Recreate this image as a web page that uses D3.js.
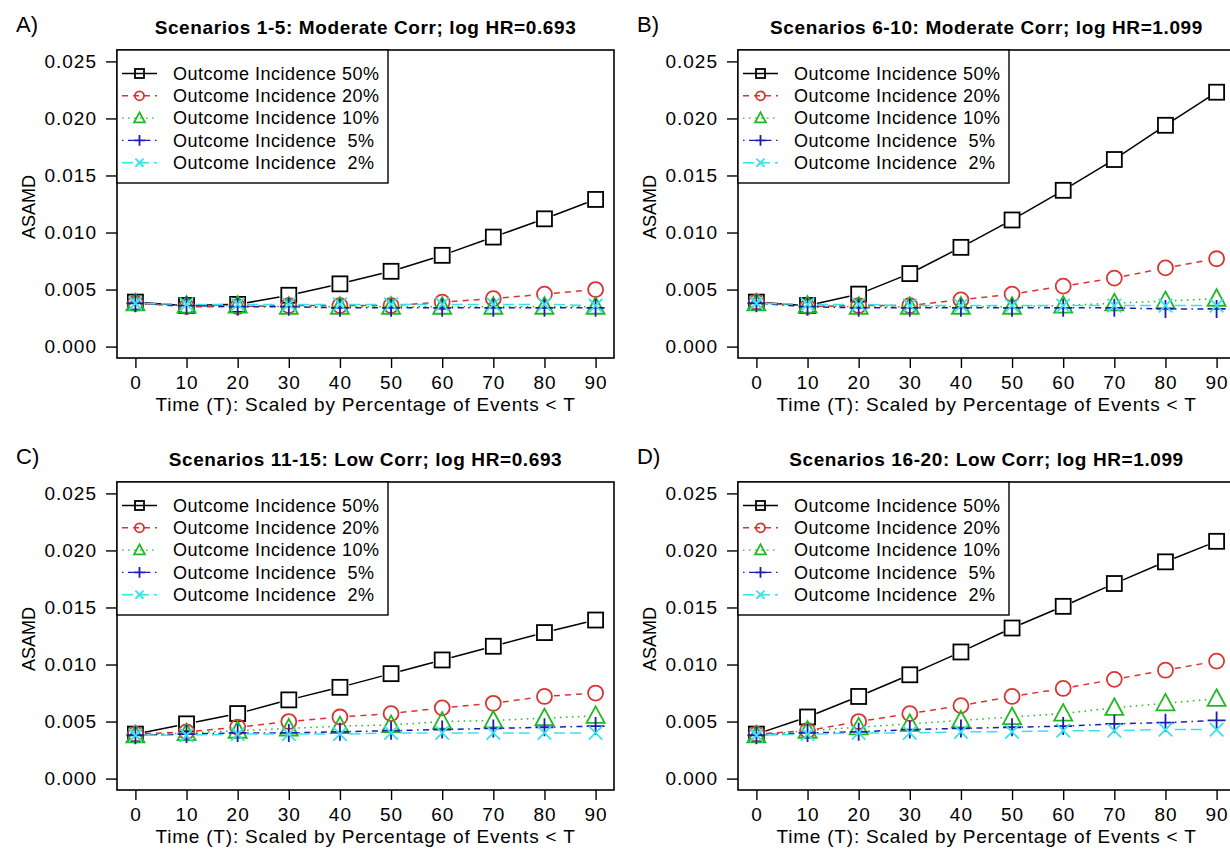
<!DOCTYPE html>
<html>
<head>
<meta charset="utf-8">
<script src="https://cdn.jsdelivr.net/npm/d3@7"></script>
<style>
  body { margin: 0; background: #fff; }
  text { font-family: "Liberation Sans", Arial, sans-serif; }
</style>
</head>
<body>
<div id="Area"></div>
<script>
// x values and tick labels
var times = [0, 10, 20, 30, 40, 50, 60, 70, 80, 90];
var yTicks = [0, 0.005, 0.010, 0.015, 0.020, 0.025];
var legendLabels = ["Outcome Incidence 50%", "Outcome Incidence 20%", "Outcome Incidence 10%",
                    "Outcome Incidence  5%", "Outcome Incidence  2%"];
var panelLetters = ["A)", "B)", "C)", "D)"];
var panelTitles = ["Scenarios 1-5: Moderate Corr; log HR=0.693",
                   "Scenarios 6-10: Moderate Corr; log HR=1.099",
                   "Scenarios 11-15: Low Corr; log HR=0.693",
                   "Scenarios 16-20: Low Corr; log HR=1.099"];

// panel A
var a50 = [0.0039, 0.0036, 0.0037, 0.0045, 0.0055, 0.0066, 0.0080, 0.0096, 0.0112, 0.0129];
var a20 = [0.0038, 0.0035, 0.0035, 0.0036, 0.0036, 0.0036, 0.0039, 0.0042, 0.0046, 0.0050];
var a10 = [0.0038, 0.0036, 0.0036, 0.0035, 0.0035, 0.0035, 0.0035, 0.0035, 0.0035, 0.0035];
var a05 = [0.0038, 0.0036, 0.0035, 0.0035, 0.0034, 0.0034, 0.0034, 0.0034, 0.0034, 0.0034];
var a02 = [0.0038, 0.0037, 0.0037, 0.0037, 0.0037, 0.0037, 0.0037, 0.0037, 0.0037, 0.0036];
// panel B
var b50 = [0.0039, 0.0036, 0.0046, 0.0064, 0.0087, 0.0111, 0.0137, 0.0164, 0.0194, 0.0223];
var b20 = [0.0039, 0.0035, 0.0036, 0.0036, 0.0041, 0.0046, 0.0053, 0.0060, 0.0069, 0.0077];
var b10 = [0.0038, 0.0036, 0.0035, 0.0035, 0.0035, 0.0035, 0.0036, 0.0038, 0.0040, 0.0042];
var b05 = [0.0038, 0.0035, 0.0034, 0.0034, 0.0034, 0.0034, 0.0034, 0.0034, 0.0033, 0.0033];
var b02 = [0.0038, 0.0037, 0.0037, 0.0036, 0.0036, 0.0036, 0.0036, 0.0036, 0.0036, 0.0036];
// panel C
var c50 = [0.0039, 0.0048, 0.0057, 0.0069, 0.0080, 0.0092, 0.0104, 0.0116, 0.0128, 0.0139];
var c20 = [0.0039, 0.0041, 0.0045, 0.0050, 0.0054, 0.0057, 0.0062, 0.0066, 0.0072, 0.0075];
var c10 = [0.0038, 0.0040, 0.0042, 0.0044, 0.0046, 0.0047, 0.0050, 0.0051, 0.0053, 0.0055];
var c05 = [0.0038, 0.0039, 0.0040, 0.0040, 0.0041, 0.0042, 0.0043, 0.0044, 0.0045, 0.0046];
var c02 = [0.0038, 0.0038, 0.0039, 0.0039, 0.0039, 0.0040, 0.0040, 0.0040, 0.0040, 0.0040];
// panel D
var d50 = [0.0039, 0.0054, 0.0072, 0.0091, 0.0111, 0.0132, 0.0151, 0.0171, 0.0190, 0.0208];
var d20 = [0.0039, 0.0042, 0.0050, 0.0057, 0.0064, 0.0072, 0.0079, 0.0087, 0.0095, 0.0103];
var d10 = [0.0038, 0.0042, 0.0045, 0.0048, 0.0051, 0.0054, 0.0057, 0.0062, 0.0066, 0.0070];
var d05 = [0.0038, 0.0040, 0.0041, 0.0043, 0.0044, 0.0045, 0.0046, 0.0048, 0.0049, 0.0051];
var d02 = [0.0038, 0.0039, 0.0040, 0.0040, 0.0041, 0.0041, 0.0042, 0.0042, 0.0043, 0.0043];

var panelData = [[a50, a20, a10, a05, a02], [b50, b20, b10, b05, b02],
                 [c50, c20, c10, c05, c02], [d50, d20, d10, d05, d02]];

// styles per series: colour, dash, marker
var colors = ["#000000", "#dc3232", "#22b822", "#1c1cb4", "#38e2ec"];
var dashes = [null, "6,5", "1.5,4.5", "1.5,4.5,6,4.5", "11,5"];
var shapes = ["square", "circle", "triangle", "plus", "cross"];

var W = 1230, H = 859;
var panelW = 621, panelH = 432;
// plot box inside each panel
var box = {left: 117, right: 614, top: 50, bottom: 358};

var svg = d3.select("#Area")
  .append("svg")
    .attr("width", W)
    .attr("height", H);

function marker(g, shape, cx, cy, s, col) {
  var sw = 1.8;
  if (shape == "square") {
    g.append("rect").attr("x", cx - s / 2).attr("y", cy - s / 2)
      .attr("width", s).attr("height", s)
      .attr("fill", "none").attr("stroke", col).attr("stroke-width", sw);
  } else if (shape == "circle") {
    g.append("circle").attr("cx", cx).attr("cy", cy).attr("r", s / 2)
      .attr("fill", "none").attr("stroke", col).attr("stroke-width", sw);
  } else if (shape == "triangle") {
    var h = s * 1.05, w = s * 1.2;
    g.append("path")
      .attr("d", "M" + cx + "," + (cy - h * 0.6) + "L" + (cx + w / 2) + "," + (cy + h * 0.45) +
                 "L" + (cx - w / 2) + "," + (cy + h * 0.45) + "Z")
      .attr("fill", "none").attr("stroke", col).attr("stroke-width", sw);
  } else if (shape == "plus") {
    var r = s * 0.6;
    g.append("path")
      .attr("d", "M" + (cx - r) + "," + cy + "H" + (cx + r) + "M" + cx + "," + (cy - r) + "V" + (cy + r))
      .attr("stroke", col).attr("stroke-width", sw);
  } else {
    var r2 = s * 0.45;
    g.append("path")
      .attr("d", "M" + (cx - r2) + "," + (cy - r2) + "L" + (cx + r2) + "," + (cy + r2) +
                 "M" + (cx - r2) + "," + (cy + r2) + "L" + (cx + r2) + "," + (cy - r2))
      .attr("stroke", col).attr("stroke-width", sw);
  }
}

panelData.forEach(function(series, p) {
  var ox = (p % 2) * panelW, oy = Math.floor(p / 2) * panelH;
  var g = svg.append("g").attr("transform", "translate(" + ox + "," + oy + ")");

  // R style 4% expansion of the data range
  var x = d3.scaleLinear().domain([-3.6, 93.6]).range([box.left, box.right]);
  var y = d3.scaleLinear().domain([-0.001, 0.026]).range([box.bottom, box.top]);

  // series: segments with gaps (type = "b"), then points
  series.forEach(function(vals, i) {
    var gap = 9.5;
    for (var k = 0; k < vals.length - 1; k++) {
      var x1 = x(times[k]), y1 = y(vals[k]), x2 = x(times[k + 1]), y2 = y(vals[k + 1]);
      var len = Math.sqrt((x2 - x1) * (x2 - x1) + (y2 - y1) * (y2 - y1));
      if (len <= 2 * gap) continue;
      var ux = (x2 - x1) / len, uy = (y2 - y1) / len;
      g.append("line")
        .attr("x1", x1 + ux * gap).attr("y1", y1 + uy * gap)
        .attr("x2", x2 - ux * gap).attr("y2", y2 - uy * gap)
        .attr("stroke", colors[i]).attr("stroke-width", 1.5)
        .attr("stroke-dasharray", dashes[i]);
    }
    vals.forEach(function(v, k) {
      marker(g, shapes[i], x(times[k]), y(v), 15, colors[i]);
    });
  });

  // box
  g.append("rect")
    .attr("x", box.left).attr("y", box.top)
    .attr("width", box.right - box.left).attr("height", box.bottom - box.top)
    .attr("fill", "none").attr("stroke", "#000").attr("stroke-width", 1.6);

  // axes
  var yAxis = d3.axisLeft(y).tickValues(yTicks).tickFormat(d3.format(".3f")).tickSize(11).tickPadding(9);
  var ya = g.append("g").attr("transform", "translate(" + box.left + ",0)").call(yAxis);
  ya.select(".domain").remove();
  ya.selectAll("line").attr("stroke-width", 1.4);
  ya.selectAll("text").style("font-size", "19px").style("letter-spacing", "1px").attr("fill", "#000");

  var xAxis = d3.axisBottom(x).tickValues(times).tickSize(10).tickPadding(8);
  var xa = g.append("g").attr("transform", "translate(0," + box.bottom + ")").call(xAxis);
  xa.select(".domain").remove();
  xa.selectAll("line").attr("stroke-width", 1.4);
  xa.selectAll("text").style("font-size", "19px").style("letter-spacing", "1px").attr("fill", "#000");

  // labels
  g.append("text").attr("x", (box.left + box.right) / 2).attr("y", 411)
    .attr("text-anchor", "middle").style("font-size", "19px").style("letter-spacing", "0.8px")
    .text("Time (T): Scaled by Percentage of Events < T");
  g.append("text")
    .attr("transform", "translate(35," + ((box.top + box.bottom) / 2 + 3) + ") rotate(-90)")
    .attr("text-anchor", "middle").style("font-size", "18px").text("ASAMD");
  g.append("text").attr("x", (box.left + box.right) / 2).attr("y", 34)
    .attr("text-anchor", "middle").style("font-size", "19px").style("font-weight", "bold")
    .style("letter-spacing", "0.6px")
    .text(panelTitles[p]);
  g.append("text").attr("x", 16).attr("y", 32).style("font-size", "22px").text(panelLetters[p]);

  // legend
  var lg = g.append("g");
  lg.append("rect").attr("x", box.left).attr("y", box.top)
    .attr("width", 271).attr("height", 133)
    .attr("fill", "#fff").attr("stroke", "#000").attr("stroke-width", 1.4);
  legendLabels.forEach(function(lab, i) {
    var ly = 73.5 + i * 22.3;
    lg.append("line").attr("x1", 122).attr("x2", 157).attr("y1", ly).attr("y2", ly)
      .attr("stroke", colors[i]).attr("stroke-width", 1.4).attr("stroke-dasharray", dashes[i]);
    marker(lg, shapes[i], 139.5, ly, 9, colors[i]);
    lg.append("text").attr("x", 173).attr("y", ly).attr("dy", "0.35em")
      .attr("xml:space", "preserve").style("white-space", "pre")
      .style("font-size", "18px").style("letter-spacing", "0.5px").text(lab);
  });
});
</script>
</body>
</html>
